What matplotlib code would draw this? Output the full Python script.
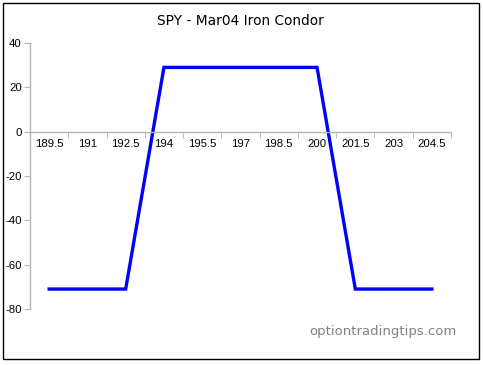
import matplotlib
matplotlib.use("Agg")
import matplotlib.pyplot as plt
from matplotlib.patches import Rectangle
import numpy as np

categories = ["189.5", "191", "192.5", "194", "195.5", "197", "198.5", "200", "201.5", "203", "204.5"]
profit = [-71, -71, -71, 29, 29, 29, 29, 29, -71, -71, -71]
yticks = [-80, -60, -40, -20, 0, 20, 40]

W, H = 483, 365
fig = plt.figure(figsize=(W / 100, H / 100), dpi=100)
fig.patch.set_facecolor("white")

# outer border
fig.patches.append(Rectangle((3 / W, 6 / H), 476 / W, 356 / H, transform=fig.transFigure,
                             fill=False, edgecolor="black", linewidth=1.0))

left, right, top, bottom = 30, 451, 43, 309
ax = fig.add_axes([left / W, (H - bottom) / H, (right - left) / W, (bottom - top) / H])
ax.set_facecolor("none")

x = np.arange(len(categories))
ax.plot(x, profit, color="#0000ff", linewidth=2.4, solid_joinstyle="miter")

ax.set_xlim(-0.5, len(categories) - 0.5)
ax.set_ylim(-80, 40)

axis_col = "#b4b4b4"
for s in ["top", "right"]:
    ax.spines[s].set_visible(False)
ax.spines["bottom"].set_position(("data", 0))
ax.spines["bottom"].set_color(axis_col)
ax.spines["left"].set_color(axis_col)
ax.spines["bottom"].set_linewidth(1.0)
ax.spines["left"].set_linewidth(1.0)

ax.set_yticks(yticks)
ax.set_yticklabels([str(v) for v in yticks], fontsize=8.2, family="Liberation Sans")
ax.tick_params(axis="y", length=4, color=axis_col, pad=2)

ax.set_xticks(x)
ax.set_xticklabels(categories, fontsize=8.2, family="Liberation Sans")
ax.set_xticks(np.arange(len(categories) + 1) - 0.5, minor=True)
ax.tick_params(axis="x", which="major", length=0, pad=5.5)
ax.tick_params(axis="x", which="minor", length=4, color=axis_col, direction="out")

fig.text(240 / W, (H - 21) / H, "SPY - Mar04 Iron Condor", ha="center", va="center",
         fontsize=9.9, family="DejaVu Sans", color="black")
fig.text(457 / W, (H - 331) / H, "optiontradingtips.com", ha="right", va="center",
         fontsize=9.5, family="DejaVu Sans", color="#808080")

fig.savefig("out.png", dpi=100)
